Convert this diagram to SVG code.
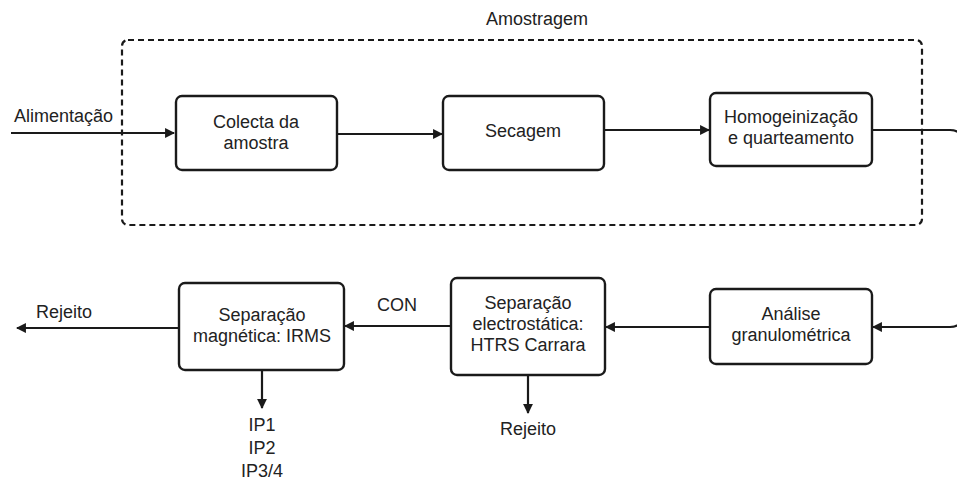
<svg xmlns="http://www.w3.org/2000/svg" width="957" height="482" viewBox="0 0 957 482">
<style>
.box{fill:#fff;stroke:#1a1a1a;stroke-width:2.4}
.t{font-family:"Liberation Sans",Arial,sans-serif;font-size:18px;fill:#222;text-anchor:middle}
.tl{font-family:"Liberation Sans",Arial,sans-serif;font-size:18px;fill:#222}
.c{fill:none;stroke:#1a1a1a;stroke-width:2.2}
</style>
<defs>
<marker id="ah" viewBox="0 0 10 10" refX="9" refY="5" markerWidth="4.5" markerHeight="4.5" orient="auto" markerUnits="strokeWidth">
<path d="M0,0 L10,5 L0,10 z" fill="#1a1a1a"/>
</marker>
</defs>
<rect width="957" height="482" fill="#fff"/>
<g id="amostragem">
<rect x="122" y="40" width="800" height="185" rx="6" fill="none" stroke="#1a1a1a" stroke-width="2.2" stroke-dasharray="6,4"/>
<text class="t" x="537" y="25">Amostragem</text>
</g>
<g id="connectors">
<path class="c" d="M11,133 H174" marker-end="url(#ah)"/>
<path class="c" d="M337,134 H442" marker-end="url(#ah)"/>
<path class="c" d="M604,130 H709" marker-end="url(#ah)"/>
<path class="c" d="M872,130 H950 Q962,130 962,142 V315 Q962,327 950,327 H873" marker-end="url(#ah)"/>
<path class="c" d="M710,327 H606" marker-end="url(#ah)"/>
<path class="c" d="M451,326 H345" marker-end="url(#ah)"/>
<path class="c" d="M179,328 H17" marker-end="url(#ah)"/>
<path class="c" d="M262,370 V408" marker-end="url(#ah)"/>
<path class="c" d="M528,375 V413" marker-end="url(#ah)"/>
</g>
<g id="labels">
<text class="tl" x="14" y="122">Alimentação</text>
<text class="tl" x="36" y="318">Rejeito</text>
<text class="t" x="397" y="311">CON</text>
<text class="t" x="262" y="431">IP1</text>
<text class="t" x="262" y="454">IP2</text>
<text class="t" x="262" y="477">IP3/4</text>
<text class="t" x="528" y="435">Rejeito</text>
</g>
<g id="colecta">
<rect class="box" x="176" y="96" width="161" height="74" rx="6"/>
<text class="t" x="256" y="128">Colecta da</text>
<text class="t" x="256" y="149">amostra</text>
</g>
<g id="secagem">
<rect class="box" x="443" y="96" width="161" height="74" rx="6"/>
<text class="t" x="523" y="137">Secagem</text>
</g>
<g id="homogeneizacao">
<rect class="box" x="710" y="93" width="162" height="73" rx="6"/>
<text class="t" x="791" y="123">Homogeinização</text>
<text class="t" x="791" y="144">e quarteamento</text>
</g>
<g id="analise">
<rect class="box" x="710" y="289" width="162" height="75" rx="6"/>
<text class="t" x="791" y="320">Análise</text>
<text class="t" x="791" y="341">granulométrica</text>
</g>
<g id="electrostatica">
<rect class="box" x="451" y="278" width="154" height="97" rx="6"/>
<text class="t" x="528" y="309">Separação</text>
<text class="t" x="528" y="330">electrostática:</text>
<text class="t" x="528" y="351">HTRS Carrara</text>
</g>
<g id="magnetica">
<rect class="box" x="179" y="283" width="165" height="87" rx="6"/>
<text class="t" x="262" y="321">Separação</text>
<text class="t" x="262" y="342">magnética: IRMS</text>
</g>
</svg>
